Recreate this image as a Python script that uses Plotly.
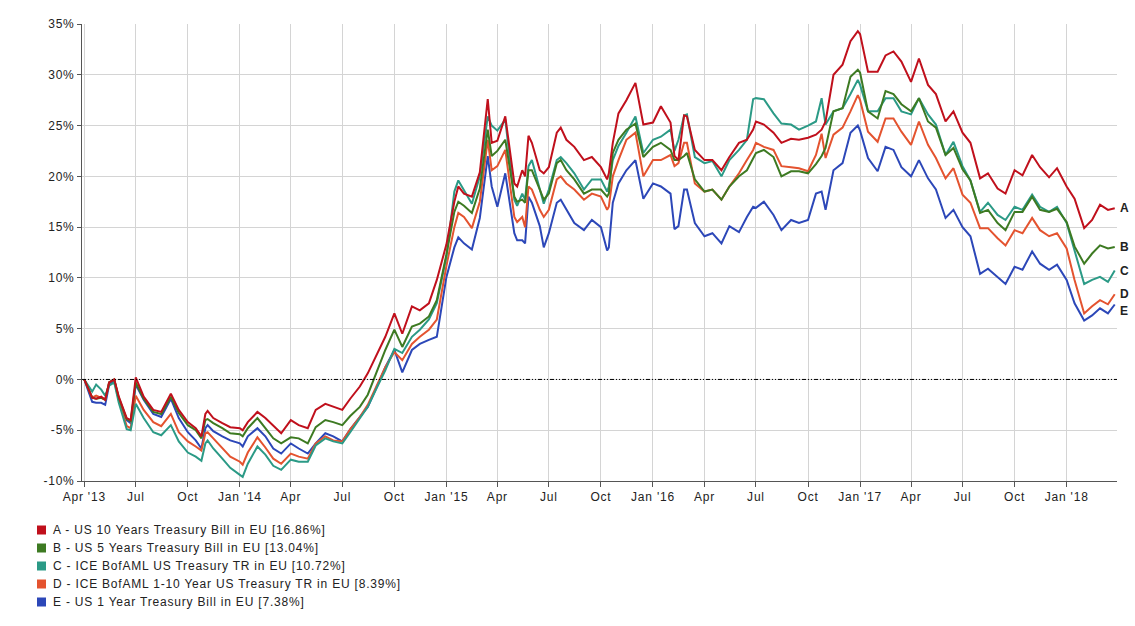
import plotly.graph_objects as go

# ---- main semi-monthly readings ----
dates = [
    "2013-04-01", "2013-04-15", "2013-05-01", "2013-05-15", "2013-06-01", "2013-06-15",
    "2013-07-01", "2013-07-15", "2013-08-01", "2013-08-15", "2013-09-01", "2013-09-15",
    "2013-10-01", "2013-10-15", "2013-11-01", "2013-11-15", "2013-12-01", "2013-12-15",
    "2014-01-01", "2014-01-15", "2014-02-01", "2014-02-15", "2014-03-01", "2014-03-15",
    "2014-04-01", "2014-04-15", "2014-05-01", "2014-05-15", "2014-06-01", "2014-06-15",
    "2014-07-01", "2014-07-15", "2014-08-01", "2014-08-15", "2014-09-01", "2014-09-15",
    "2014-10-01", "2014-10-15", "2014-11-01", "2014-11-15", "2014-12-01", "2014-12-15",
    "2015-01-01", "2015-01-15", "2015-02-01", "2015-02-15", "2015-03-01", "2015-03-15",
    "2015-04-01", "2015-04-15", "2015-05-01", "2015-05-15", "2015-06-01", "2015-06-15",
    "2015-07-01", "2015-07-15", "2015-08-01", "2015-08-15", "2015-09-01", "2015-09-15",
    "2015-10-01", "2015-10-15", "2015-11-01", "2015-11-15", "2015-12-01", "2015-12-15",
    "2016-01-01", "2016-01-15", "2016-02-01", "2016-02-15", "2016-03-01", "2016-03-15",
    "2016-04-01", "2016-04-15", "2016-05-01", "2016-05-15", "2016-06-01", "2016-06-15",
    "2016-07-01", "2016-07-15", "2016-08-01", "2016-08-15", "2016-09-01", "2016-09-15",
    "2016-10-01", "2016-10-15", "2016-11-01", "2016-11-15", "2016-12-01", "2016-12-15",
    "2017-01-01", "2017-01-15", "2017-02-01", "2017-02-15", "2017-03-01", "2017-03-15",
    "2017-04-01", "2017-04-15", "2017-05-01", "2017-05-15", "2017-06-01", "2017-06-15",
    "2017-07-01", "2017-07-15", "2017-08-01", "2017-08-15", "2017-09-01", "2017-09-15",
    "2017-10-01", "2017-10-15", "2017-11-01", "2017-11-15", "2017-12-01", "2017-12-15",
    "2018-01-01", "2018-01-15", "2018-02-01", "2018-02-15", "2018-03-01", "2018-03-15",
    "2018-03-27",
]

us10y = [
    0, -1.8, -1.7, -0.3, -1.7, -3.8,
    0.2, -1.7, -3.0, -3.2, -1.4, -3.0,
    -4.2, -4.8, -3.4, -3.8, -4.3, -4.7,
    -4.8, -4.2, -3.2, -3.8, -4.6, -5.3,
    -4.0, -4.5, -4.8, -3.0, -2.4, -2.7,
    -3.0, -1.9, -0.7, 0.6, 2.6, 4.2,
    6.5, 4.5, 7.2, 6.8, 7.5, 9.8,
    13.3, 17.5, 18.3, 18.0, 20.4, 27.6,
    23.5, 25.9, 19.3, 20.6, 23.3, 20.6,
    20.9, 24.3, 23.6, 22.9, 21.6, 21.9,
    20.9, 20.3, 26.2, 27.5, 29.2, 25.1,
    25.3, 26.9, 25.3, 21.6, 25.9, 22.6,
    21.6, 21.6, 20.6, 21.9, 23.3, 23.6,
    25.4, 25.1, 24.3, 23.3, 23.7, 23.6,
    23.8, 24.1, 25.4, 30.0, 31.0, 33.3,
    34.0, 30.3, 30.3, 31.9, 32.3, 31.3,
    29.3, 31.6, 29.0, 28.1, 25.4, 26.4,
    24.3, 23.3, 19.8, 20.3, 18.8, 18.3,
    20.6, 20.1, 22.1, 20.9, 19.9, 20.8,
    19.0, 17.8, 14.9, 15.7, 17.2, 16.7,
    16.86,
]

us5y = [
    0, -1.8, -1.8, -0.3, -1.8, -3.9,
    -0.3, -1.9, -3.2, -3.4, -1.7, -3.3,
    -4.5, -5.0, -4.0, -4.3, -4.8, -5.3,
    -5.4, -4.8, -3.8, -4.8, -5.8, -6.3,
    -5.7, -5.8, -6.3, -4.7, -4.0, -4.2,
    -4.5, -3.6, -2.7, -1.5, 0.9, 2.9,
    4.9, 3.2, 5.2, 5.5, 6.2, 7.8,
    12.3, 16.5, 17.1, 16.4, 18.8, 24.6,
    22.5, 23.6, 18.0, 17.7, 20.6, 18.7,
    18.3, 21.3, 20.6, 19.7, 18.3, 18.7,
    18.7, 18.3, 23.6, 24.6, 25.2, 21.9,
    22.9, 23.3, 22.6, 21.6, 22.3, 19.7,
    18.5, 18.7, 17.7, 19.0, 20.0, 20.6,
    22.3, 22.6, 21.9, 20.0, 20.5, 20.5,
    20.3, 21.2, 22.8, 26.4, 26.7, 29.8,
    30.2, 26.4, 25.7, 28.4, 28.1, 27.1,
    26.4, 27.7, 25.4, 24.8, 22.1, 22.8,
    20.7, 19.6, 16.4, 16.7, 15.4, 14.7,
    16.5, 16.5, 18.0, 16.7, 16.5, 16.8,
    15.5, 13.1, 11.4, 12.4, 13.2, 12.9,
    13.04,
]

ice_ust = [
    0, -1.2, -1.0, -0.6, -2.3, -4.9,
    -2.4, -3.8, -5.2, -5.5, -4.5, -6.1,
    -7.2, -7.6, -6.3, -6.8, -7.8, -8.7,
    -9.4, -8.3, -6.6, -7.4, -8.5, -8.9,
    -7.9, -8.1, -8.1, -6.5, -5.8, -6.1,
    -6.3, -5.2, -3.8, -2.7, -0.7, 0.9,
    3.0, 2.6, 4.2, 4.9, 5.9, 7.5,
    12.1, 18.5, 18.7, 17.3, 20.0, 25.9,
    24.5, 25.6, 17.7, 18.3, 21.6, 18.7,
    18.7, 21.6, 21.3, 20.3, 18.7, 19.7,
    19.7, 19.0, 23.0, 24.3, 25.9, 22.3,
    23.6, 23.9, 24.6, 23.6, 26.1, 21.9,
    21.3, 21.5, 20.0, 21.6, 22.6, 23.6,
    27.7, 27.6, 26.2, 25.2, 25.1, 24.6,
    25.0, 25.4, 25.1, 26.4, 26.7, 28.1,
    29.0, 26.4, 26.4, 27.7, 27.7, 26.4,
    26.1, 27.7, 26.1, 25.1, 22.1, 23.4,
    21.0, 19.6, 16.5, 17.4, 16.2, 15.7,
    17.0, 16.7, 18.2, 17.0, 16.5, 17.0,
    15.4, 12.8, 9.4, 9.8, 10.1, 9.6,
    10.72,
]

ice_1_10 = [
    0, -1.8, -1.8, -0.3, -2.0, -4.6,
    -1.6, -3.0, -4.2, -4.6, -3.4, -5.2,
    -6.1, -6.6, -5.3, -5.8, -6.8, -7.6,
    -8.1, -7.2, -5.7, -6.7, -7.8, -8.3,
    -7.3, -7.6, -7.8, -6.3, -5.6, -6.0,
    -6.1, -4.9, -3.7, -2.5, -0.4, 1.2,
    2.7, 1.9, 3.5, 4.2, 4.9, 5.9,
    11.2, 15.0, 16.0, 14.9, 17.5, 23.6,
    21.0, 22.6, 16.0, 16.0, 18.7, 16.7,
    16.7, 19.7, 19.3, 18.7, 17.7, 18.3,
    18.0, 17.0, 21.6, 23.6, 24.3, 20.0,
    21.6, 21.6, 22.1, 21.3, 23.3, 19.3,
    18.5, 18.7, 17.7, 19.0, 20.3, 21.6,
    23.3, 22.9, 22.6, 21.0, 20.9, 20.8,
    20.5, 22.1, 21.8, 24.1, 24.8, 26.4,
    27.5, 24.4, 23.4, 25.7, 25.7, 24.4,
    23.1, 25.4, 23.1, 21.8, 19.8, 20.8,
    18.2, 17.4, 14.9, 14.9, 13.9, 13.2,
    14.7, 14.4, 15.9, 14.7, 14.1, 14.4,
    12.9, 9.8, 6.5, 7.2, 7.8, 7.4,
    8.39,
]

us1y = [
    0, -2.2, -2.3, -0.5, -2.0, -4.0,
    -0.5, -2.0, -3.4, -3.7, -1.9, -3.8,
    -5.2, -6.0, -4.8, -5.1, -5.6, -6.0,
    -6.3, -5.6, -4.8, -5.6, -6.8, -7.3,
    -6.3, -6.8, -7.3, -6.3, -5.3, -5.6,
    -6.1, -4.9, -3.7, -2.7, -0.6, 1.2,
    2.9, 0.7, 2.9, 3.5, 3.9, 4.2,
    10.1, 13.0, 13.4, 12.8, 15.9, 22.0,
    17.0, 20.3, 14.4, 13.7, 17.4, 15.1,
    14.4, 17.4, 16.7, 15.4, 14.7, 15.7,
    15.0, 13.0, 19.3, 20.6, 21.6, 17.8,
    19.3, 19.0, 18.3, 15.1, 18.7, 15.4,
    14.1, 14.4, 13.4, 15.1, 14.5, 16.0,
    16.9, 17.5, 16.2, 14.7, 15.7, 15.4,
    15.7, 18.3, 16.7, 20.6, 21.3, 24.3,
    24.5, 21.8, 20.5, 22.9, 22.6, 20.9,
    20.0, 21.6, 19.8, 18.7, 15.9, 16.7,
    15.0, 14.1, 10.4, 10.9, 10.1, 9.4,
    11.1, 10.8, 12.6, 11.4, 10.8, 11.3,
    9.8, 7.5, 5.8, 6.3, 7.0, 6.5,
    7.38,
]

# ---- extra readings at local peaks / troughs ----
extra_dates = [
    "2013-04-22", "2013-05-08", "2013-05-24", "2013-06-22", "2013-10-25", "2013-11-05",
    "2014-01-06", "2015-01-22", "2015-03-22", "2015-05-06", "2015-05-20", "2015-05-26",
    "2015-06-22", "2015-07-22", "2015-10-12", "2015-10-22", "2016-02-08", "2016-02-25",
    "2016-06-26", "2016-10-25", "2016-12-28",
]
extra_us10y = [
    -1.9, -2.0, 0.0, -4.0, -5.6, -3.1,
    -5.0, 19.0, 23.3, 19.0, 20.0, 24.0,
    20.3, 24.8, 19.7, 23.3, 22.0, 26.0,
    24.6, 24.6, 34.3,
]
extra_us5y = [
    -1.9, -2.0, 0.0, -4.1, -5.8, -3.9,
    -5.6, 17.5, 22.0, 17.5, 17.4, 20.6,
    17.7, 21.6, 18.0, 22.3, 21.6, 22.0,
    21.8, 22.0, 30.5,
]
extra_ice_ust = [
    -0.5, -1.6, -0.3, -5.0, -8.0, -6.0,
    -9.6, 19.6, 25.0, 17.1, 17.7, 21.0,
    17.3, 21.9, 18.5, 21.6, 22.5, 26.0,
    27.6, 27.7, 29.5,
]
extra_ice_1_10 = [
    -1.6, -2.0, 0.0, -4.8, -7.0, -5.2,
    -8.4, 16.4, 20.6, 15.5, 15.0, 19.0,
    16.0, 20.0, 16.7, 20.0, 21.0, 23.3,
    22.6, 24.2, 28.0,
]
extra_us1y = [
    -2.3, -2.5, -0.1, -4.3, -6.8, -4.5,
    -6.6, 14.0, 19.0, 13.7, 13.4, 18.0,
    13.0, 17.7, 12.7, 17.4, 14.8, 18.7,
    17.0, 18.5, 25.0,
]

series_names = [
    "A - US 10 Years Treasury Bill in EU [16.86%]",
    "B - US 5 Years Treasury Bill in EU [13.04%]",
    "C - ICE BofAML US Treasury TR in EU [10.72%]",
    "D - ICE BofAML 1-10 Year US Treasury TR in EU [8.39%]",
    "E - US 1 Year Treasury Bill in EU [7.38%]",
]
series_letters = ["A", "B", "C", "D", "E"]
series_main = [us10y, us5y, ice_ust, ice_1_10, us1y]
series_extra = [extra_us10y, extra_us5y, extra_ice_ust, extra_ice_1_10, extra_us1y]
colors = ["#c0101c", "#3d7a22", "#2b9a86", "#e4532f", "#2c47b8"]

tick_dates = [
    "2013-04-01", "2013-07-01", "2013-10-01", "2014-01-01", "2014-04-01", "2014-07-01",
    "2014-10-01", "2015-01-01", "2015-04-01", "2015-07-01", "2015-10-01", "2016-01-01",
    "2016-04-01", "2016-07-01", "2016-10-01", "2017-01-01", "2017-04-01", "2017-07-01",
    "2017-10-01", "2018-01-01",
]
tick_labels = [
    "Apr '13", "Jul", "Oct", "Jan '14", "Apr", "Jul", "Oct", "Jan '15", "Apr", "Jul",
    "Oct", "Jan '16", "Apr", "Jul", "Oct", "Jan '17", "Apr", "Jul", "Oct", "Jan '18",
]
y_ticks = [-10, -5, 0, 5, 10, 15, 20, 25, 30, 35]
y_tick_labels = ["-10%", "-5%", "0%", "5%", "10%", "15%", "20%", "25%", "30%", "35%"]
label_shift = [0, 0, 0, 0, -6]

FONT = "Liberation Sans, Arial, sans-serif"
SP = "<span style='letter-spacing:0.8px'>{}</span>"
PLOT_H = 626 - 24 - 145

fig = go.Figure()

# merge the two sets of readings by date; draw E first so A is on top
for name, main, extra, col in reversed(list(zip(series_names, series_main, series_extra, colors))):
    pts = sorted(list(zip(dates, main)) + list(zip(extra_dates, extra)))
    fig.add_trace(go.Scatter(
        x=[p[0] for p in pts], y=[p[1] for p in pts], mode="lines", name=name,
        line=dict(color=col, width=2), showlegend=False, hoverinfo="skip",
    ))

annotations = []
shapes = [dict(
    type="line", xref="paper", x0=0, x1=1, yref="y", y0=0, y1=0,
    line=dict(color="black", width=1, dash="4px,2px,1px,2px,1px,2px"),
    layer="above",
)]

# end-of-line letters
for letter, vals, sh in zip(series_letters, series_main, label_shift):
    annotations.append(dict(
        x=1.0, xref="paper", y=vals[-1], yref="y", text="<b>" + letter + "</b>",
        showarrow=False, xanchor="left", yanchor="middle", xshift=1, yshift=sh,
        font=dict(family=FONT, size=12, color="#222"),
    ))

# legend below the chart (square swatch + text)
for i, (name, col) in enumerate(zip(series_names, colors)):
    yc = 530 + 18 * i
    yp = (481 - yc) / PLOT_H
    half = 4.5 / PLOT_H
    shapes.append(dict(
        type="rect", xref="paper", yref="paper",
        x0=(37 - 82) / 1035, x1=(46 - 82) / 1035, y0=yp - half, y1=yp + half,
        fillcolor=col, line=dict(width=0),
    ))
    annotations.append(dict(
        x=(51 - 82) / 1035, xref="paper", y=yp, yref="paper", text=SP.format(name),
        showarrow=False, xanchor="left", yanchor="middle",
        font=dict(family=FONT, size=12, color="#222"),
    ))

fig.update_layout(
    width=1135, height=626,
    margin=dict(l=82, r=18, t=24, b=145),
    paper_bgcolor="white", plot_bgcolor="white",
    font=dict(family=FONT, size=12, color="#333"),
    showlegend=False,
    annotations=annotations,
    shapes=shapes,
)

fig.update_xaxes(
    type="date", range=["2013-03-28", "2018-03-31"],
    tickvals=tick_dates, ticktext=[SP.format(t) for t in tick_labels],
    showgrid=True, gridcolor="#d4d4d4", gridwidth=1,
    showline=True, linecolor="#555", linewidth=1,
    ticks="outside", ticklen=5, tickcolor="#555",
    tickfont=dict(size=12, color="#222"), zeroline=False,
)
fig.update_yaxes(
    range=[-10, 35], tickvals=y_ticks, ticktext=[SP.format(t) for t in y_tick_labels],
    showgrid=True, gridcolor="#d4d4d4", gridwidth=1,
    showline=True, linecolor="#555", linewidth=1,
    ticks="outside", ticklen=4, tickcolor="#555",
    tickfont=dict(size=12, color="#222"), zeroline=False,
)

fig.write_html("out.html")
